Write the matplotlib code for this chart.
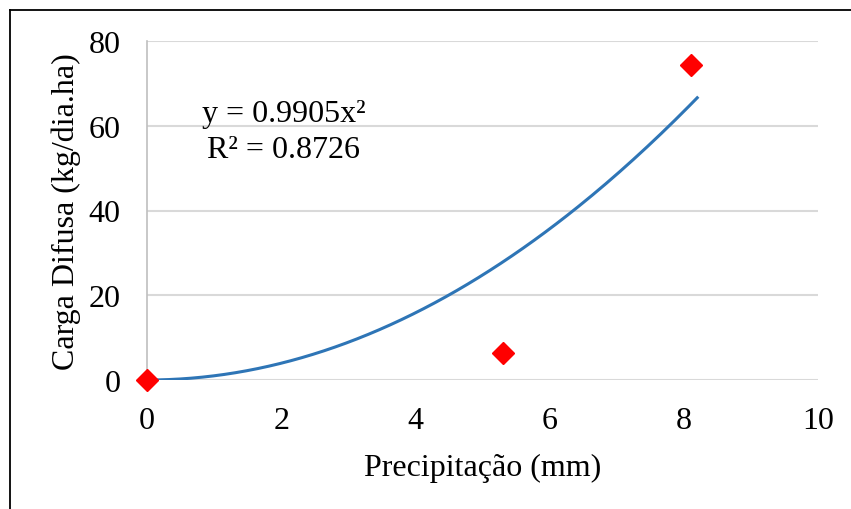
import numpy as np
import matplotlib.pyplot as plt
from matplotlib.lines import Line2D

plt.rcParams['font.family'] = ['Liberation Serif', 'DejaVu Serif']

precip = [0.0, 5.3, 8.1]
carga = [0.0, 6.3, 74.3]
coef = 0.9905
r2 = 0.8726
x_ticks = [0, 2, 4, 6, 8, 10]
y_ticks = [0, 20, 40, 60, 80]

fig = plt.figure(figsize=(8.51, 5.10), dpi=100)
ax = fig.add_axes([147/851, 1-381/510, (818-147)/851, (381-42)/510])

xx = np.linspace(0, 8.2, 200)
ax.plot(xx, coef*xx**2, color='#2E75B6', lw=2.2, zorder=2)
ax.plot(precip, carga, linestyle='none', marker='D', color='#FF0000',
        markersize=11, zorder=3, clip_on=False)

ax.set_xlim(0, 10)
ax.set_ylim(0, 80)
ax.set_xticks(x_ticks)
ax.set_yticks(y_ticks)
ax.tick_params(length=0, labelsize=23)
ax.tick_params(axis='x', pad=19)
ax.tick_params(axis='y', pad=19)
ax.grid(axis='y', color='#D9D9D9', lw=1.5, zorder=0)
ax.set_axisbelow(True)
for s in ['top', 'right', 'bottom']:
    ax.spines[s].set_visible(False)
ax.spines['left'].set_color('#BFBFBF')
ax.spines['left'].set_linewidth(1.2)

ax.set_xlabel('Precipitação (mm)', fontsize=23, labelpad=12.5)
ax.set_ylabel('Carga Difusa (kg/dia.ha)', fontsize=23, labelpad=5.5)

ax.text(2.04, 62.8, 'y = 0.9905x²', fontsize=23, ha='center', va='center')
ax.text(2.04, 54.5, 'R² = 0.8726', fontsize=23, ha='center', va='center')

# frame of the figure (top and left only visible)
fig.add_artist(Line2D([9.5/851, 9.5/851], [0, 1-11/510], transform=fig.transFigure, color='black', lw=1.3))
fig.add_artist(Line2D([9.5/851, 1], [1-11/510, 1-11/510], transform=fig.transFigure, color='black', lw=1.3))

fig.savefig('out.png', dpi=100)
